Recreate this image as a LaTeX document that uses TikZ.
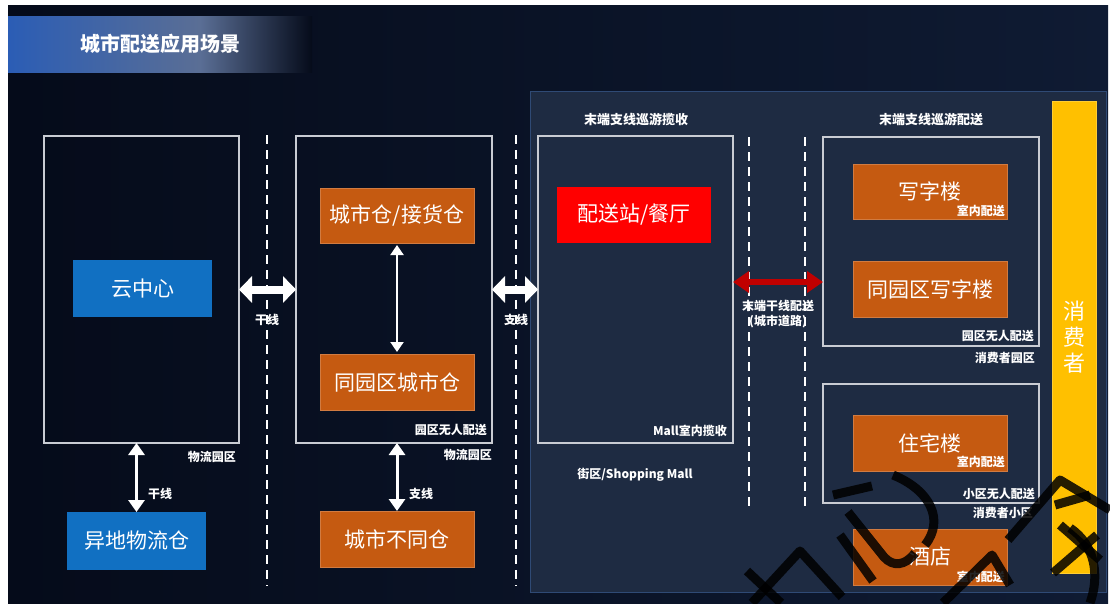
\documentclass[tikz,border=0pt]{standalone}
\usepackage{fontspec}
\setmainfont{Noto Sans CJK SC}
\usetikzlibrary{arrows.meta,calc}
\definecolor{bgL}{HTML}{050B1A}
\definecolor{bgR}{HTML}{0F1B33}
\definecolor{panelC}{HTML}{1E2B42}
\definecolor{panelB}{HTML}{2F4A75}
\definecolor{boxB}{HTML}{C9CCD3}
\definecolor{blueC}{HTML}{1170C2}
\definecolor{orangeC}{HTML}{C55A11}
\definecolor{redC}{HTML}{FF0000}
\definecolor{darkred}{HTML}{C00000}
\definecolor{yellowC}{HTML}{FFC000}
\definecolor{titleL}{HTML}{2B5DB5}
\definecolor{titleM}{HTML}{5A6E95}
\tikzset{
  frame/.style={draw=boxB, line width=1.2pt, inner sep=0pt, outer sep=0pt},
  solidbox/.style={inner sep=0pt, outer sep=0pt, text=white, font=\fontsize{21}{25}\selectfont, minimum width=154pt, minimum height=56pt},
  bluebox/.style={solidbox, fill=blueC, minimum width=139pt, minimum height=57pt},
  orangebox/.style={solidbox, fill=orangeC, draw=orangeC!80!white, line width=0.6pt},
  redbox/.style={solidbox, fill=redC},
  smalltxt/.style={text=white, inner sep=0pt, font=\fontsize{12}{14}\selectfont\bfseries},
  headtxt/.style={text=white, inner sep=0pt, font=\fontsize{13}{15}\selectfont\bfseries},
  dashline/.style={white, line width=2.5pt, dash pattern=on 9pt off 6pt},
  bigarrow/.style={white, line width=8pt, {Triangle[width=26pt,length=13pt]}-{Triangle[width=26pt,length=13pt]}},
  redarrow/.style={darkred, line width=6.5pt, {Triangle[width=21pt,length=16pt]}-{Triangle[width=21pt,length=16pt]}},
  varrow/.style={white, line width=3pt, {Triangle[width=16pt,length=12pt]}-{Triangle[width=16pt,length=12pt]}},
  thinarrow/.style={white, line width=2pt, {Triangle[width=13pt,length=10pt]}-{Triangle[width=13pt,length=10pt]}},
  wm/.style={black, opacity=0.85, line width=9pt, line join=round}
}
\begin{document}
\begin{tikzpicture}[x=1pt,y=-1pt]
\useasboundingbox (0,0) rectangle (1110,603);
\fill[white] (0,0) rectangle (1110,603);
\shade[left color=bgL, right color=bgR] (8,5) rectangle (1108,603);
% title band
\shade[left color=titleL, right color=titleM] (8,16) rectangle (200,72);
\shade[left color=titleM, right color=bgL] (200,16) rectangle (312,72);
\node[text=white, font=\fontsize{20}{24}\selectfont\bfseries] (title) at (160,44) {城市配送应用场景};
% right panel
\fill[panelC] (530,91) rectangle (1106,592);
\draw[panelB, line width=1pt] (530,91) rectangle (1106,592);

% dashed lines
\coordinate (d1t) at (267,135); \coordinate (d1b) at (267,586);
\coordinate (d2t) at (516,135); \coordinate (d2b) at (516,586);
\coordinate (d3t) at (749,137); \coordinate (d3b) at (749,506);
\coordinate (d4t) at (805,137); \coordinate (d4b) at (805,506);
\draw[dashline] (d1t) -- (d1b);
\draw[dashline] (d2t) -- (d2b);
\draw[dashline] (d3t) -- (d3b);
\draw[dashline] (d4t) -- (d4b);

% frames
\node[frame, minimum width=195pt, minimum height=307pt] (box1) at (141.5,289.5) {};
\node[frame, minimum width=196pt, minimum height=307pt] (box2) at (394,289.5) {};
\node[frame, minimum width=195pt, minimum height=307pt] (box3) at (635.5,289.5) {};
\node[frame, minimum width=216pt, minimum height=209pt] (box4) at (931,241.5) {};
\node[frame, minimum width=216pt, minimum height=119pt] (box5) at (931,443.5) {};

% solid boxes
\node[bluebox] (yun) at (142.5,288.5) {云中心};
\node[bluebox, minimum height=58pt] (yidi) at (136.5,541) {异地物流仓};
\node[orangebox, minimum height=55pt] (csc) at (397,215.5) {城市仓/接货仓};
\node[orangebox] (tyq) at (397,382) {同园区城市仓};
\node[orangebox] (cbt) at (397,539) {城市不同仓};
\node[redbox] (psz) at (634,215) {配送站/餐厅};
\node[orangebox, minimum height=55pt] (xzl) at (930,191.5) {写字楼};
\node[orangebox] (tyx) at (930,289) {同园区写字楼};
\node[orangebox] (zzl) at (930,443) {住宅楼};
\node[orangebox] (jd) at (930,557) {酒店};
\node[fill=yellowC, inner sep=0pt, minimum width=44pt, minimum height=472pt, draw=yellowC!80!white, line width=0.6pt] (xfz) at (1074,337) {};
\node[text=white, align=center, font=\fontsize{22}{26}\selectfont] (xfzt) at (1074,337) {消\\费\\者};

% connectors
\coordinate (ry) at (0,282);
\draw[bigarrow] (box1.east) -- (box2.west);
\draw[bigarrow] (box2.east) -- (box3.west);
\draw[redarrow] (box3.east |- ry) -- (box4.west |- ry);
\draw[varrow] (yidi.north |- box1.south) -- (yidi.north);
\draw[varrow] (cbt.north |- box2.south) -- (cbt.north);
\draw[thinarrow, shorten <=2pt, shorten >=2pt] (csc.south) -- (tyq.north);

% labels
\node[smalltxt, anchor=east] (l1) at (236,457) {物流园区};
\node[smalltxt, anchor=west] (l2) at (148,494) {干线};
\node[smalltxt] (l3) at (267,320) {干线};
\node[smalltxt, anchor=east] (l4) at (487,430) {园区无人配送};
\node[smalltxt, anchor=east] (l5) at (492,455) {物流园区};
\node[smalltxt, anchor=west] (l6) at (409,494) {支线};
\node[smalltxt] (l7) at (516,320) {支线};
\node[headtxt] (l8) at (636,120) {末端支线巡游揽收};
\node[smalltxt, anchor=east] (l9) at (727,431) {Mall室内揽收};
\node[smalltxt] (l10) at (635,475) {街区/Shopping Mall};
\node[smalltxt] (l11) at (778,306) {末端干线配送};
\node[smalltxt] (l12) at (778,322) {(城市道路)};
\node[headtxt] (l13) at (931,120) {末端支线巡游配送};
\node[smalltxt, anchor=east] (l14) at (1005,211) {室内配送};
\node[smalltxt, anchor=east] (l15) at (1034,336) {园区无人配送};
\node[smalltxt, anchor=east] (l16) at (1035,358) {消费者园区};
\node[smalltxt, anchor=east] (l17) at (1005,462) {室内配送};
\node[smalltxt, anchor=east] (l18) at (1035,494) {小区无人配送};
\node[smalltxt, anchor=east] (l19) at (1033,513) {消费者小区};
\node[smalltxt, anchor=east] (l20) at (1005,577) {室内配送};

% watermark strokes
\begin{scope}
\clip (0,0) rectangle (1110,603);
\draw[wm] (747,571) -- (781,603);
\draw[wm] (752,603) -- (800,551) -- (842,597);
\draw[wm] (833,495) -- (872,486);
\draw[wm] (840,535) -- (873,581);
\draw[wm] (848,512) -- (884,557) .. controls (893,567) and (905,566) .. (915,553);
\draw[wm] (893,475) .. controls (930,490) and (945,520) .. (925,545);
\draw[wm] (943,603) -- (992,555) -- (1010,585);
\draw[wm] (1008,540) -- (1060,480) -- (1110,510);
\draw[wm] (1055,505) -- (1090,495);
\draw[wm] (1053,573) -- (1097,535);
\draw[wm] (1060,525) -- (1100,560);
\draw[wm] (1070,528) .. controls (1095,545) and (1100,575) .. (1090,603);
\end{scope}
\end{tikzpicture}
\end{document}
